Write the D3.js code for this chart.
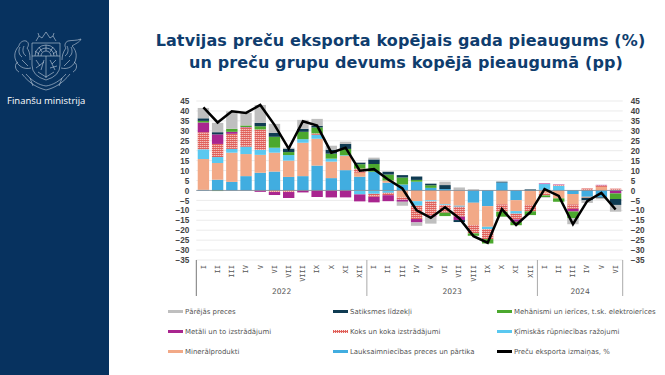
<!DOCTYPE html>
<html>
<head>
<meta charset="utf-8">
<script src="https://cdn.jsdelivr.net/npm/d3@7"></script>
<style>
  body { margin: 0; background: #fff; }
  svg { display: block; font-family: "DejaVu Sans", sans-serif; }
  .axis path, .axis line { display: none; }
  .yaxis text { font-size: 8.2px; font-weight: bold; fill: #444; }
  .xaxis text { font-size: 7px; font-family: "DejaVu Sans Mono", monospace; fill: #555; }
  .legend text { font-size: 6.95px; fill: #555; }
</style>
</head>
<body>
<div id="chart"></div>
<script>
// month labels, Jan 2022 - Jun 2024
const months = ["I","II","III","IV","V","VI","VII","VIII","IX","X","XI","XII",
    "I","II","III","IV","V","VI","VII","VIII","IX","X","XI","XII",
    "I","II","III","IV","V","VI"];
const years = ["2022", "2023", "2024"];
const yearLengths = [12, 12, 6];
const yTicks = [45,40,35,30,25,20,15,10,5,0,-5,-10,-15,-20,-25,-30,-35];

// contribution of each goods group, pp
const agriculture = [0.3,5.4,4.3,7.2,8.9,9.5,6.8,7.2,12.5,6.2,10.2,6.9,9.4,3.9,3,4.4,1.3,0.7,0,-6.2,-7.9,4,-4.9,-0.3,0.5,0,-1.8,-3.2,-3.3,0];
const mineral = [15.5,8.4,14.7,11.1,9,9.5,8.2,16.8,13.5,8.3,7.2,2,0,1.1,-3.5,-5.4,-5,-7,-7.7,-11.2,-10.4,-7,-5.5,-7,-1.5,-4,-5.2,-0.5,1.8,0];
const chemical = [4.9,3,1.9,3.7,2.5,2.5,2.8,1.8,2,1.5,0.3,-2,-1.7,-1.2,0,-2.3,-0.5,-0.4,-0.5,0,-1.2,0,-1.3,0,2.7,2.3,0,0,0,0];
const wood = [8.6,6.6,7.6,9.7,10.3,-0.8,-0.8,0,0.7,0,0,2.1,-1.5,-1.2,-1.2,-6.7,-7.2,-3.8,-5,-4.2,-5,-3.7,-2.9,-3.2,-1,0.5,-2.3,1,0.8,0.9];
const metals = [4.9,4.8,1,0.2,-0.7,-1.5,-3,-1,-3.3,-3.5,-3.5,-3.5,-2.8,-3,-1,-1.7,-0.5,0,-1.7,0,0,0,-1.2,0,0.3,0.2,-1.3,0,0.2,-1.5];
const machinery = [0.8,-0.3,1.5,0.8,1.6,5.5,1.5,3.7,3,2.5,3.2,2.2,3.9,3,3.5,0.9,1.3,-1.7,0,-1.2,-2.2,-2.5,-1.7,-1.9,-0.8,-1.7,-3.4,0,0,-2.8];
const transport = [1.3,1.1,0,0,1.7,2,1.7,1.5,0.8,2,2.5,0.8,2.3,1.4,1.2,1.7,0.8,2,-1,0,0,0.4,0,0.5,0,0,0,-1.3,-0.4,-3];
const other = [5.2,4.7,8.8,6.3,9,4.5,0.5,4.5,3.5,2,1.1,0.3,0.9,0.3,-2,-1.7,-3.5,1.7,1.5,0.6,0,0,0,0,-0.3,0,-3,-1.3,-0.7,-3.4];
// total change of goods exports, %
const exportChange = [41.8,34.2,39.8,39,43,33,21,34.8,32.6,19,21.5,9.9,10.7,5.5,1,-10,-13.8,-8.5,-14,-23,-26.3,-9.4,-17.4,-11,0.7,-2.8,-17,-5.4,-1.2,-9.6];

const seriesNames = ["agriculture","mineral","chemical","wood","metals","machinery","transport","other"];
const seriesValues = [agriculture, mineral, chemical, wood, metals, machinery, transport, other];
const colors = {
    agriculture: "#41ade0", mineral: "#f2a987", chemical: "#5ac8f0", wood: "url(#hatch)",
    metals: "#a9258f", machinery: "#4ba82e", transport: "#0f3b52", other: "#bfbfbf"
};

// legend rows, left to right
const legendLabels = [
    "Pārējās preces", "Satiksmes līdzekļi", "Mehānismi un ierīces, t.sk. elektroierīces",
    "Metāli un to izstrādājumi", "Koks un koka izstrādājumi", "Ķīmiskās rūpniecības ražojumi",
    "Minerālprodukti", "Lauksaimniecības preces un pārtika", "Preču eksporta izmaiņas, %"
];
const legendKeys = ["other","transport","machinery","metals","wood","chemical","mineral","agriculture","line"];

const width = 665, height = 375;
const margin = { top: 101, right: 42.3, bottom: 115, left: 196.3 };
const plotW = width - margin.left - margin.right,
    plotH = height - margin.top - margin.bottom;

const svg = d3.select("#chart").append("svg")
    .attr("width", width)
    .attr("height", height);

// red/white hatch used for wood
const pat = svg.append("defs").append("pattern")
    .attr("id", "hatch")
    .attr("width", 2).attr("height", 2)
    .attr("patternUnits", "userSpaceOnUse");
pat.append("rect").attr("width", 2).attr("height", 2).attr("fill", "#e0605a");
pat.append("rect").attr("width", 1).attr("height", 1).attr("fill", "#fbe9e6");

// side panel
svg.append("rect").attr("width", 109).attr("height", height).attr("fill", "#07325f");
const crest = svg.append("g")
    .attr("fill", "none")
    .attr("stroke", "#c4d0de")
    .attr("stroke-width", 0.6)
    .attr("stroke-linejoin", "round");
crest.append("path").attr("d", "M32 43H60V65Q60 76 46 80Q32 76 32 65Z");
crest.append("path").attr("d", "M32 56H60M46 56V78");
crest.append("path").attr("d", "M35 56A11 11 0 0 1 57 56M38 56A8 8 0 0 1 54 56M41 56A5 5 0 0 1 51 56M46 45V51M39 47L42 52M53 47L50 52M35 51L39 54M57 51L53 54");
crest.append("path").attr("d", "M36 41l3 -5 3 2 4 -6 4 6 3 -2 3 5M38 33l1 3M54 33l-1 3");
crest.append("path").attr("d", "M31 68C24 70 17 66 15 58C14 52 17 48 19 46C19 43 23 40 26 41C29 42 29 46 27 48C30 52 30 56 30 60M18 62C14 64 15 70 19 72M20 47C18 51 19 55 22 57M24 46C22 50 23 54 26 56M22 60L28 66");
crest.append("path").attr("d", "M61 68C68 70 75 66 76 58C77 52 74 48 72 46C75 44 80 42 81 39C76 41 72 40 68 41C65 42 64 46 66 48C63 52 62 56 62 60M74 62C78 64 77 70 73 72M71 47C73 51 72 55 69 57M67 46C69 50 68 54 65 56M70 60L64 66");
crest.append("path").attr("d", "M22 74C30 84 38 88 46 90C54 88 62 84 70 74M26 74C32 81 39 85 46 86C53 85 60 81 66 74M30 78L33 86M62 78L59 86");
crest.append("path").attr("d", "M36 60L40 66M44 60L41 70M36 68L44 62M50 60L55 70M56 60L52 64M50 68L57 66M38 72L46 77L54 72");
svg.append("text")
    .attr("x", 7).attr("y", 104)
    .attr("font-family", "'Open Sans', sans-serif")
    .attr("font-size", 9.5)
    .attr("fill", "#fff")
    .text("Finanšu ministrija");

// title
svg.append("text")
    .attr("x", 400.5).attr("y", 46)
    .attr("text-anchor", "middle")
    .attr("font-size", 16).attr("letter-spacing", 0.12).attr("font-weight", "bold").attr("fill", "#0f3d6e")
    .text("Latvijas preču eksporta kopējais gada pieaugums (%)");
svg.append("text")
    .attr("x", 406).attr("y", 68)
    .attr("text-anchor", "middle")
    .attr("font-size", 16).attr("letter-spacing", 0.12).attr("font-weight", "bold").attr("fill", "#0f3d6e")
    .text("un preču grupu devums kopējā pieaugumā (pp)");

const g = svg.append("g")
    .attr("transform", "translate(" + margin.left + "," + margin.top + ")");

// set the ranges
const x = d3.scaleBand().domain(d3.range(months.length)).range([0, plotW]).paddingInner(0.2).paddingOuter(0.1);
const y = d3.scaleLinear().domain([45, -35]).range([0, plotH]);

// grid
g.selectAll(".grid").data(yTicks).enter().append("line")
    .attr("x1", 0).attr("x2", plotW)
    .attr("y1", d => y(d)).attr("y2", d => y(d))
    .attr("stroke", "#ebebeb")
    .attr("stroke-width", 1);

// stack, negatives go downwards
const rows = months.map((m, i) => {
    const row = { i: i };
    seriesNames.forEach((s, j) => { row[s] = seriesValues[j][i]; });
    return row;
});
const stacked = d3.stack().keys(seriesNames).offset(d3.stackOffsetDiverging)(rows);

g.selectAll(".series").data(stacked).enter().append("g")
    .attr("fill", d => colors[d.key])
    .selectAll("rect").data(d => d).enter().append("rect")
    .attr("x", d => x(d.data.i))
    .attr("width", x.bandwidth())
    .attr("y", d => y(d[1]))
    .attr("height", d => y(d[0]) - y(d[1]));

// zero line
g.append("line")
    .attr("x1", 0).attr("x2", plotW)
    .attr("y1", y(0)).attr("y2", y(0))
    .attr("stroke", "#7f8a94")
    .attr("stroke-width", 0.8);

// export change line
const valueline = d3.line()
    .x((d, i) => x(i) + x.bandwidth() / 2)
    .y(d => y(d));
g.append("path")
    .datum(exportChange)
    .attr("fill", "none")
    .attr("stroke", "#000")
    .attr("stroke-width", 2.5)
    .attr("stroke-linejoin", "miter")
    .attr("d", valueline);

// axes
g.append("g").attr("class", "axis yaxis")
    .call(d3.axisLeft(y).tickValues(yTicks).tickSize(0).tickPadding(7));
g.append("g").attr("class", "axis yaxis")
    .attr("transform", "translate(" + plotW + ",0)")
    .call(d3.axisRight(y).tickValues(yTicks).tickSize(0).tickPadding(8));

const xAxis = g.append("g").attr("class", "axis xaxis")
    .attr("transform", "translate(0," + plotH + ")")
    .call(d3.axisBottom(x).tickFormat(i => months[i]).tickSize(0));
xAxis.selectAll("text")
    .attr("transform", "rotate(-90)")
    .attr("text-anchor", "end")
    .attr("x", -5)
    .attr("y", 0)
    .attr("dy", "0.32em");

// year separators and labels
let start = 0;
const step = plotW / months.length;
years.forEach((yr, k) => {
    const end = start + yearLengths[k];
    g.append("text")
        .attr("x", (start + end) / 2 * step)
        .attr("y", plotH + 34)
        .attr("text-anchor", "middle")
        .attr("font-size", 7.6)
        .attr("fill", "#555")
        .text(yr);
    start = end;
});
[0, 12, 24, 30].forEach(n => {
    g.append("line")
        .attr("x1", n * step).attr("x2", n * step)
        .attr("y1", plotH).attr("y2", plotH + 36)
        .attr("stroke", n == 0 ? "#777" : "#aaa")
        .attr("stroke-width", 1);
});

// legend
const legendX = [168, 333, 497], legendY = [312, 332, 352];
const legend = svg.append("g").attr("class", "legend");
legendLabels.forEach((label, i) => {
    const lx = legendX[i % 3], ly = legendY[Math.floor(i / 3)];
    const key = legendKeys[i];
    legend.append("rect")
        .attr("x", lx).attr("y", ly - 2)
        .attr("width", 15).attr("height", 3)
        .attr("fill", key == "line" ? "#000" : colors[key]);
    legend.append("text")
        .attr("x", lx + 17).attr("y", ly)
        .attr("dy", "0.35em")
        .text(label);
});
</script>
</body>
</html>
